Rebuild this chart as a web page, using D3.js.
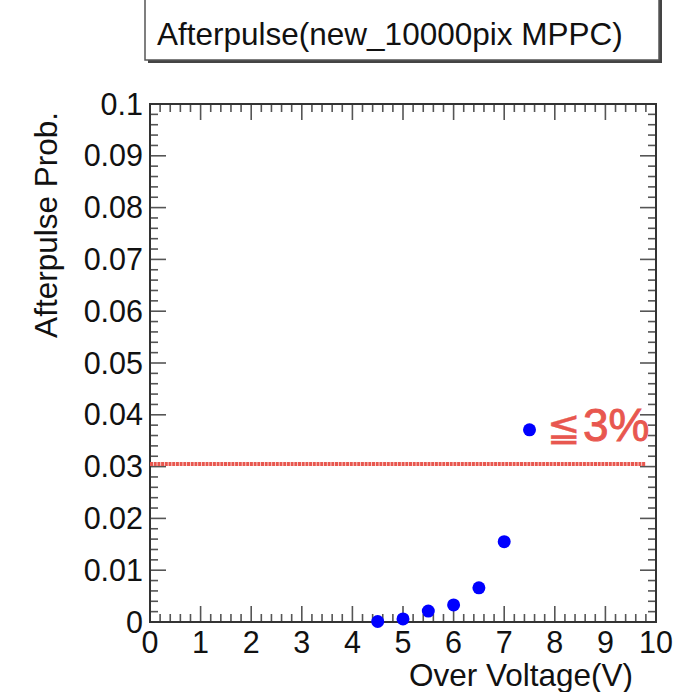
<!DOCTYPE html>
<html>
<head>
    <title>Afterpulse</title>
    <script src="https://d3js.org/d3.v7.min.js"></script>
    <style>
        body { margin: 0; background: #fff; }
        text { font-family: "Liberation Sans", Arial, Helvetica, sans-serif; fill: #111; }
    </style>
</head>
<body>
    <svg width="676" height="692"></svg>
    <script>
        // measured points
        const overVoltage = [4.5, 5.0, 5.5, 6.0, 6.5, 7.0, 7.5];
        const afterpulse = [0.0001, 0.0006, 0.0021, 0.0033, 0.0066, 0.0155, 0.0371];

        // hand-drawn limit line and its note
        const limitValue = 0.0305;
        const limitRange = [0, 9.8];
        const limitSign = "\u2266";
        const limitText = "3%";

        const xTicks = [0, 1, 2, 3, 4, 5, 6, 7, 8, 9, 10];
        const yTicks = [0, 0.01, 0.02, 0.03, 0.04, 0.05, 0.06, 0.07, 0.08, 0.09, 0.1];
        const xLabels = ["0", "1", "2", "3", "4", "5", "6", "7", "8", "9", "10"];
        const yLabels = ["0", "0.01", "0.02", "0.03", "0.04", "0.05", "0.06", "0.07", "0.08", "0.09", "0.1"];

        const plotTitle = "Afterpulse(new_10000pix MPPC)";
        const xTitle = "Over Voltage(V)";
        const yTitle = "Afterpulse Prob.";

        const padL = 150, padR = 656, padT = 104, padB = 622;
        const svg = d3.select("svg");

        const x = d3.scaleLinear().domain([0, 10]).range([padL, padR]);
        const y = d3.scaleLinear().domain([0, 0.1]).range([padB, padT]);

        const tickColor = "#555";
        const xMinor = d3.range(0, 10.001, 0.2);
        const yMinor = d3.range(0, 0.1001, 0.002);

        // ticks on all four sides, like ROOT with tickx/ticky
        const ticks = svg.append("g").attr("stroke", tickColor).attr("stroke-width", 1.6);
        xMinor.forEach((v, i) => {
            const len = i % 5 === 0 ? 16 : 8;
            ticks.append("line").attr("x1", x(v)).attr("x2", x(v)).attr("y1", padB).attr("y2", padB - len);
            ticks.append("line").attr("x1", x(v)).attr("x2", x(v)).attr("y1", padT).attr("y2", padT + len);
        });
        yMinor.forEach((v, i) => {
            const len = i % 5 === 0 ? 16 : 8;
            ticks.append("line").attr("y1", y(v)).attr("y2", y(v)).attr("x1", padL).attr("x2", padL + len);
            ticks.append("line").attr("y1", y(v)).attr("y2", y(v)).attr("x1", padR).attr("x2", padR - len);
        });

        // frame
        svg.append("rect")
            .attr("x", padL).attr("y", padT)
            .attr("width", padR - padL).attr("height", padB - padT)
            .attr("fill", "none").attr("stroke", "#333").attr("stroke-width", 2);

        // tick labels
        svg.append("g").selectAll("text").data(xTicks).join("text")
            .attr("x", d => x(d))
            .attr("y", padB + 31)
            .attr("text-anchor", "middle")
            .attr("font-size", 30.5)
            .text((d, i) => xLabels[i]);

        svg.append("g").selectAll("text").data(yTicks).join("text")
            .attr("x", padL - 7)
            .attr("y", d => y(d) + 10.5)
            .attr("text-anchor", "end")
            .attr("font-size", 30.5)
            .text((d, i) => yLabels[i]);

        // axis titles
        svg.append("text")
            .attr("x", 633).attr("y", 686)
            .attr("text-anchor", "end")
            .attr("font-size", 31.5)
            .text(xTitle);

        svg.append("text")
            .attr("transform", "translate(57,112) rotate(-90)")
            .attr("text-anchor", "end")
            .attr("font-size", 31.5)
            .text(yTitle);

        // limit line
        svg.append("line")
            .attr("x1", x(limitRange[0])).attr("x2", x(limitRange[1]))
            .attr("y1", y(limitValue)).attr("y2", y(limitValue))
            .attr("stroke", "#e8574f").attr("stroke-width", 4)
            .attr("stroke-dasharray", "3,0.7");

        const note = svg.append("text")
            .attr("x", 547).attr("y", 441)
            .style("fill", "#e8574f")
            .attr("stroke", "#e8574f").attr("stroke-width", 0.9);
        note.append("tspan").attr("font-size", 40).attr("stroke-width", 0.4).text(limitSign);
        note.append("tspan").attr("dx", 2).attr("font-size", 46).text(limitText);

        // data points
        svg.append("g").selectAll("circle").data(overVoltage).join("circle")
            .attr("cx", d => x(d))
            .attr("cy", (d, i) => y(afterpulse[i]))
            .attr("r", 6.5)
            .attr("fill", "#0000ff");

        // title box with shadow
        svg.append("rect")
            .attr("x", 148).attr("y", -4).attr("width", 514).attr("height", 67)
            .attr("fill", "#444");
        svg.append("rect")
            .attr("x", 145).attr("y", -6).attr("width", 514).attr("height", 66)
            .attr("fill", "#fff").attr("stroke", "#555").attr("stroke-width", 1.5);
        svg.append("text")
            .attr("x", 157).attr("y", 45)
            .attr("font-size", 31.5)
            .text(plotTitle);
    </script>
</body>
</html>
